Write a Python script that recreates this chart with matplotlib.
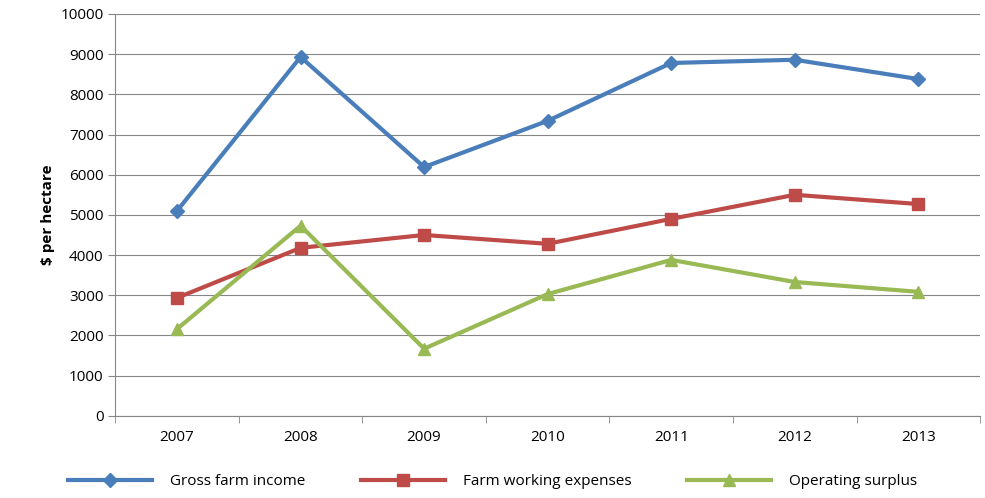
import matplotlib.pyplot as plt
import numpy as np

years = ["2007", "2008", "2009", "2010", "2011", "2012", "2013"]
gross = [5100, 8930, 6190, 7340, 8780, 8860, 8380]
expenses = [2935, 4180, 4500, 4280, 4900, 5500, 5270]
surplus = [2160, 4730, 1670, 3030, 3880, 3330, 3085]

plt.rcParams['font.family'] = ['Open Sans', 'DejaVu Sans']

fig = plt.figure(figsize=(9.85, 4.98), dpi=100)
ax = fig.add_axes([0.117, 0.165, 0.878, 0.807])
x = np.arange(len(years))

ax.plot(x, gross, color="#4a7ebb", lw=3, marker="D", ms=7, label="Gross farm income")
ax.plot(x, expenses, color="#be4b48", lw=3, marker="s", ms=9, label="Farm working expenses")
ax.plot(x, surplus, color="#98b954", lw=3, marker="^", ms=9, label="Operating surplus")

ax.set_xlim(-0.5, 6.5)
ax.set_ylim(0, 10000)
ax.set_yticks(range(0, 10001, 1000))
ax.yaxis.grid(True, color="#868686", lw=0.8)
ax.set_axisbelow(True)
ax.set_xticks(x)
ax.set_xticklabels(years)
ax.set_xticks(np.arange(-0.5, 7, 1), minor=True)
ax.tick_params(axis="x", which="major", length=0, pad=10)
ax.tick_params(axis="x", which="minor", length=5, color="#868686")
ax.tick_params(axis="y", length=5, color="#868686")
ax.tick_params(labelsize=11)
for s in ["top", "right"]:
    ax.spines[s].set_visible(False)
for s in ["left", "bottom"]:
    ax.spines[s].set_color("#868686")
ax.set_ylabel("$ per hectare", fontsize=11, fontweight="bold")

fig.legend(loc="lower center", ncol=3, frameon=False, fontsize=11,
           bbox_to_anchor=(0.5, -0.01), handlelength=5.5, handletextpad=1.2,
           columnspacing=3.6)

fig.savefig("out.png", dpi=100)
